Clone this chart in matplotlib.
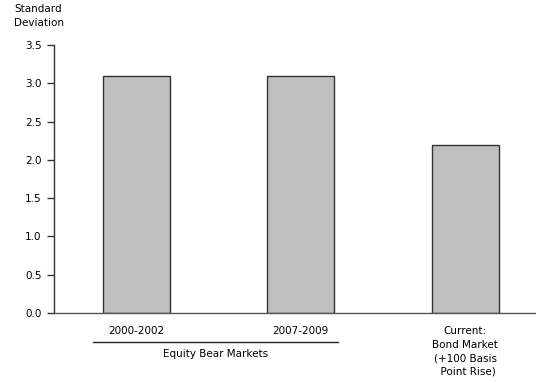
import matplotlib
matplotlib.use("Agg")
import matplotlib.pyplot as plt
import numpy as np

categories = ["2000-2002", "2007-2009", "Current:\nBond Market\n(+100 Basis\n  Point Rise)"]
values = [3.1, 3.1, 2.2]
yticks = [0.0, 0.5, 1.0, 1.5, 2.0, 2.5, 3.0, 3.5]
group_label = "Equity Bear Markets"

plt.rcParams["font.family"] = ["DejaVu Sans"]
fs = 7.5

fig = plt.figure(figsize=(5.36, 3.83), dpi=100)
ax = fig.add_axes([54 / 536, 1 - 313 / 383, 1 - 54 / 536, (313 - 45) / 383])

x = np.arange(len(values))
ax.bar(x, values, width=0.41, color="#c0c0c0", edgecolor="#333333", linewidth=1.0)

ax.set_xlim(-0.5, 2.43)
ax.set_ylim(0, 3.5)
ax.set_yticks(yticks)
ax.set_yticklabels([f"{v:.1f}" for v in yticks], fontsize=fs)
ax.tick_params(axis="y", direction="out", length=5, width=1, color="#333333", pad=4)
ax.set_xticks([])

for s in ["top", "right"]:
    ax.spines[s].set_visible(False)
ax.spines["left"].set_color("#333333")
ax.spines["bottom"].set_color("#555555")
ax.spines["left"].set_linewidth(1.0)
ax.spines["bottom"].set_linewidth(1.0)

# category labels below the axis
for xi, lab in zip(x, categories):
    ax.annotate(lab, xy=(xi, 0), xycoords=("data", "axes fraction"),
                xytext=(0, -13), textcoords="offset pixels",
                ha="center", va="top", fontsize=fs, linespacing=1.45)

# bracket line and group label under the first two bars
trans = ax.get_xaxis_transform()
x0 = ax.transData.inverted().transform((93, 0))[0]
x1 = ax.transData.inverted().transform((338, 0))[0]
line_y = -(342 - 313) / 268
ax.plot([x0, x1], [line_y, line_y], transform=trans, color="#222222",
        linewidth=1.0, clip_on=False)
ax.text((x0 + x1) / 2, line_y - 0.025, group_label, transform=trans,
        ha="center", va="top", fontsize=fs)

fig.text(14 / 536, 1 - 4 / 383, "Standard\nDeviation", ha="left", va="top",
         fontsize=fs, linespacing=1.45)

fig.savefig("out.png", dpi=100)
